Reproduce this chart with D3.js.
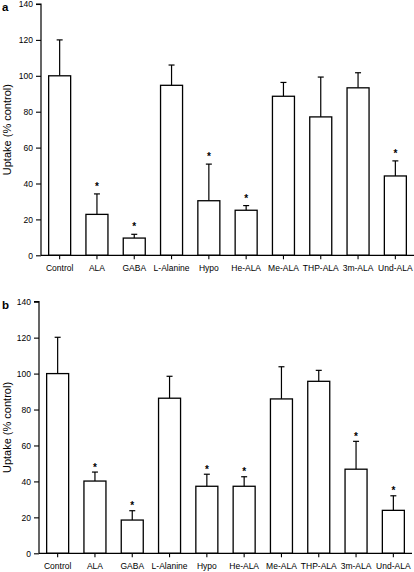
<!DOCTYPE html>
<html><head><meta charset="utf-8">
<script src="https://cdn.jsdelivr.net/npm/d3@7"></script>
<style>
html,body{margin:0;padding:0;background:#fff;}
svg{display:block;}
text{font-family:"Liberation Sans",Arial,Helvetica,sans-serif;fill:#000;}
</style></head>
<body>
<svg id="chart" width="414" height="572"></svg>
<script>
const categories = ["Control","ALA","GABA","L-Alanine","Hypo","He-ALA","Me-ALA","THP-ALA","3m-ALA","Und-ALA"];
const yTicks = [0,20,40,60,80,100,120,140];

const meanA = [100, 22.8, 9.6, 94.7, 30.4, 25.1, 88.6, 77.1, 93.3, 44.2];
const errTopA = [120, 34.2, 11.7, 106, 50.8, 27.7, 96.3, 99.3, 101.7, 52.6];
const starsA = [false, true, true, false, true, true, false, false, false, true];

const meanB = [100, 40.2, 18.5, 86.3, 37.3, 37.3, 85.9, 95.7, 46.8, 23.9];
const errTopB = [120.2, 45.2, 23.7, 98.5, 44, 42.6, 103.8, 101.8, 62.3, 32];
const starsB = [false, true, true, false, true, true, false, false, true, true];

const svg = d3.select("#chart");

function panel(letter, mean, errTop, stars, cfg){
  const g = svg.append("g");
  const x = d3.scaleBand().domain(categories).range([cfg.x0, cfg.x1])
    .paddingInner(0.41).paddingOuter(0.205);
  const y = d3.scaleLinear().domain([0,140]).range([cfg.y0, cfg.y1]);
  const data = categories.map((c,i)=>({c, v:mean[i], e:errTop[i], s:stars[i]}));

  const cap = 3;
  g.selectAll(".err").data(data).join("line")
    .attr("x1", d=>x(d.c)+x.bandwidth()/2).attr("x2", d=>x(d.c)+x.bandwidth()/2)
    .attr("y1", d=>y(d.v)).attr("y2", d=>y(d.e))
    .attr("stroke","#000").attr("stroke-width",1.2);
  g.selectAll(".cap").data(data).join("line")
    .attr("x1", d=>x(d.c)+x.bandwidth()/2-cap).attr("x2", d=>x(d.c)+x.bandwidth()/2+cap)
    .attr("y1", d=>y(d.e)).attr("y2", d=>y(d.e))
    .attr("stroke","#000").attr("stroke-width",1.2);

  g.selectAll(".bar").data(data).join("rect")
    .attr("x", d=>x(d.c)).attr("width", x.bandwidth())
    .attr("y", d=>y(d.v)).attr("height", d=>y(0)-y(d.v))
    .attr("fill","#fff").attr("stroke","#000").attr("stroke-width",1.3);

  g.selectAll(".star").data(data.filter(d=>d.s)).join("text")
    .attr("x", d=>x(d.c)+x.bandwidth()/2)
    .attr("y", d=>y(d.e)-cfg.starOff)
    .attr("text-anchor","middle").attr("font-size","10px").attr("font-weight","bold")
    .text("*");

  const ya = g.append("g").attr("transform",`translate(${cfg.x0},0)`)
    .call(d3.axisLeft(y).tickValues(yTicks).tickSize(5).tickPadding(3).tickFormat(d3.format("d")));
  ya.select(".domain").attr("stroke","#000").attr("stroke-width",1.2).attr("d",`M-5,${y(140)}H0V${y(0)}`);
  ya.selectAll(".tick line").attr("stroke","#000").attr("stroke-width",1.1);
  ya.selectAll("text").attr("font-size","8.5px").attr("font-family",'"Liberation Sans",Arial,sans-serif');

  const xa = g.append("g").attr("transform",`translate(0,${cfg.y0})`)
    .call(d3.axisBottom(x).tickSize(4).tickPadding(6).tickSizeOuter(0));
  xa.select(".domain").attr("stroke","#000").attr("stroke-width",1.2).attr("d",`M${cfg.x0},0H${cfg.x1}`);
  xa.selectAll(".tick line").attr("stroke","#000").attr("stroke-width",1.1);
  xa.selectAll("text").attr("font-size","8.5px").attr("font-family",'"Liberation Sans",Arial,sans-serif');

  g.append("text").attr("transform",`translate(11,${(cfg.y0+cfg.y1)/2}) rotate(-90)`)
    .attr("text-anchor","middle").attr("font-size","11px").text("Uptake (% control)");
  g.append("text").attr("x",2).attr("y",cfg.y1+7).attr("font-size","11.5px").attr("font-weight","bold").text(letter);
}

panel("a", meanA, errTopA, starsA, {x0:41, x1:414, y0:255.3, y1:4, starOff:4});
panel("b", meanB, errTopB, starsB, {x0:39, x1:412, y0:553.3, y1:301.7, starOff:1.5});
</script>
</body></html>
